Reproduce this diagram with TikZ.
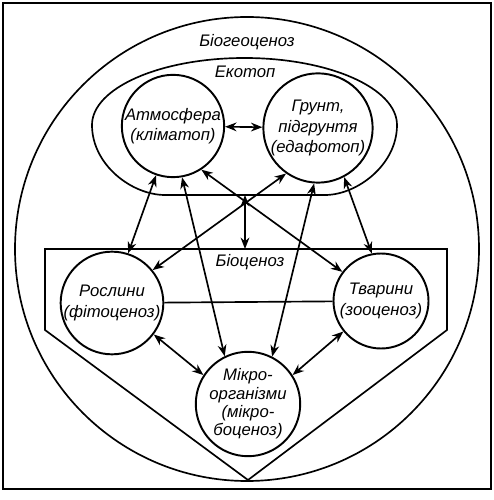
\documentclass[tikz,border=0pt]{standalone}
\usepackage{fontspec}
\setmainfont{Liberation Sans}
\usetikzlibrary{arrows.meta, positioning}

\begin{document}
\begin{tikzpicture}[
  line width=0.95pt,
  >={Stealth[length=6.5pt, width=5pt]},
  part/.style={draw, circle, line width=1.1pt, minimum size=1.9cm, inner sep=0pt, align=center, font=\fontsize{9.5}{11.5}\selectfont\itshape},
  lbl/.style={font=\fontsize{9.5}{11.5}\selectfont\itshape},
  link/.style={<->}
]
  \useasboundingbox (-4.94,-5) rectangle (4.92,5);

  % Frame
  \draw[line width=1.1pt] (-4.88,4.94) rectangle (4.88,-4.78);

  % Biogeocenosis
  \draw (0,0.02) circle (4.64);
  \node[lbl] (bgc) at (0,4.16) {Біогеоценоз};

  % Ecotope
  \draw (-3.1,2.5) arc[start angle=180, end angle=0, x radius=3.05, y radius=1.34]
    .. controls (3.0,1.7) and (2.2,1.1) .. (1.56,1.1) -- (-1.64,1.1)
    .. controls (-2.3,1.1) and (-3.1,1.7) .. cycle;
  \node[lbl] (eco) at (-0.04,3.56) {Екотоп};
  \coordinate (eco-s) at (-0.04,1.1);

  % Biocenosis
  \draw (-4.04,0.02) -- (4.0,0.02) -- (4.0,-1.6) -- (0.02,-4.6) -- (-4.04,-1.6) -- cycle;
  \node[lbl] (bio) at (0.06,-0.24) {Біоценоз};
  \coordinate (bio-n) at (-0.04,0.02);

  % Components
  \node[part] (atm) at (-1.48,2.48) {Атмосфера\\(кліматоп)};
  \node[part] (soil) at (1.42,2.44) {Грунт,\\підгрунтя\\(едафотоп)};
  \node[part] (plants) at (-2.7,-1.06) {Рослини\\(фітоценоз)};
  \node[part] (animals) at (2.68,-1.02) {Тварини\\(зооценоз)};
  \node[part, font=\fontsize{9.5}{10.5}\selectfont\itshape] (micro) at (0.02,-3.08) {Мікро-\\організми\\(мікро-\\боценоз)};

  % Links
  \draw[link] (atm) -- (soil);
  \draw[link] (atm.251) -- (plants.72);
  \draw[link] (atm.280) -- (micro.116);
  \draw[link] (atm.303) -- (animals.143);
  \draw[link] (soil.235) -- (plants.39);
  \draw[link] (soil.266) -- (micro.63);
  \draw[link] (soil.298) -- (animals.101);
  \draw[link] (plants.323) -- (micro.147);
  \draw[link] (animals.219) -- (micro.33);
  \draw (plants) -- (animals);
  \draw[link] (eco-s) -- (bio-n);
\end{tikzpicture}
\end{document}
